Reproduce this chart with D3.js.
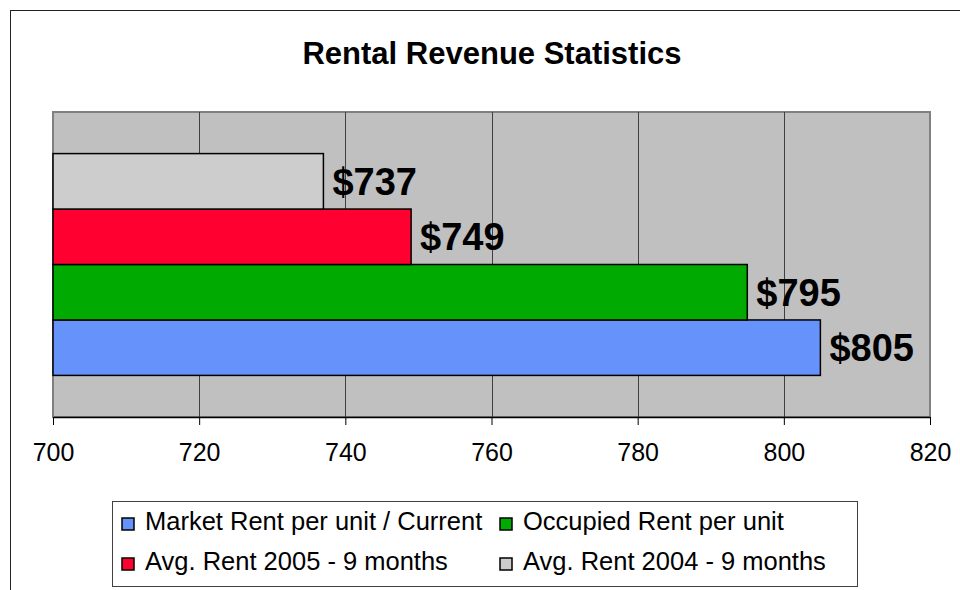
<!DOCTYPE html>
<html>
<head>
<meta charset="utf-8">
<script src="https://cdn.jsdelivr.net/npm/d3@7"></script>
<style>
  body { margin: 0; background: #fff; }
  svg { display: block; font-family: "Liberation Sans", Arial, sans-serif; }
</style>
</head>
<body>
<div id="chart"></div>
<script>
var series = ["Market Rent per unit / Current", "Occupied Rent per unit", "Avg. Rent 2005 - 9 months", "Avg. Rent 2004 - 9 months"];
var values = [805, 795, 749, 737];
var xTicks = [700, 720, 740, 760, 780, 800, 820];
var colors = ["#6592fb", "#00aa00", "#ff0030", "#cdcdcd"];

var width = 960, height = 590;
var plot = {left: 53, right: 930, top: 112, bottom: 417};

var svg = d3.select("#chart")
	.append("svg")
	.attr("width", width)
	.attr("height", height);

// outer chart border (runs off the right / bottom edge)
svg.append("rect")
	.attr("x", 10.5)
	.attr("y", 10.5)
	.attr("width", 2000)
	.attr("height", 2000)
	.attr("fill", "none")
	.attr("stroke", "#222")
	.attr("stroke-width", 1);

svg.append("text")
	.attr("x", 492)
	.attr("y", 64)
	.attr("text-anchor", "middle")
	.style("font-size", "31px")
	.style("font-weight", "bold")
	.text("Rental Revenue Statistics");

var x = d3.scaleLinear()
	.domain([xTicks[0], xTicks[xTicks.length - 1]])
	.range([plot.left, plot.right]);

var y = d3.scaleBand()
	.domain(series.slice().reverse())
	.range([plot.top, plot.bottom])
	.paddingInner(0)
	.paddingOuter(0.75);

var color = d3.scaleOrdinal().domain(series).range(colors);

// plot area
svg.append("rect")
	.attr("x", plot.left)
	.attr("y", plot.top)
	.attr("width", plot.right - plot.left)
	.attr("height", plot.bottom - plot.top)
	.attr("fill", "#c0c0c0")
	.attr("stroke", "#808080")
	.attr("stroke-width", 2);

svg.append("g")
	.selectAll("line")
	.data(xTicks.slice(1, -1))
	.enter().append("line")
	.attr("x1", function(d) { return Math.round(x(d)) + 0.5; })
	.attr("x2", function(d) { return Math.round(x(d)) + 0.5; })
	.attr("y1", plot.top)
	.attr("y2", plot.bottom)
	.attr("stroke", "#404040")
	.attr("stroke-width", 1);

svg.append("g")
	.selectAll("rect")
	.data(values)
	.enter().append("rect")
	.attr("x", x(xTicks[0]))
	.attr("y", function(d, i) { return y(series[i]); })
	.attr("width", function(d) { return x(d) - x(xTicks[0]); })
	.attr("height", y.bandwidth())
	.attr("fill", function(d, i) { return color(series[i]); })
	.attr("stroke", "#000")
	.attr("stroke-width", 1.5);

svg.append("g")
	.selectAll("text")
	.data(values)
	.enter().append("text")
	.attr("x", function(d) { return x(d) + 9; })
	.attr("y", function(d, i) { return y(series[i]) + y.bandwidth() / 2; })
	.attr("dy", "0.36em")
	.style("font-size", "38px")
	.style("font-weight", "bold")
	.text(function(d) { return "$" + d; });

// x axis
var xAxis = svg.append("g")
	.attr("transform", "translate(0," + plot.bottom + ")")
	.call(d3.axisBottom(x).tickValues(xTicks).tickSize(8).tickPadding(18).tickSizeOuter(0));

xAxis.select(".domain").attr("stroke", "#000").attr("stroke-width", 1.5);
xAxis.selectAll(".tick line").attr("stroke", "#000");
xAxis.selectAll(".tick text")
	.attr("fill", "#000")
	.style("font-size", "25px")
	.style("font-family", "'Liberation Sans', Arial, sans-serif");

// legend
var legend = svg.append("g");

legend.append("rect")
	.attr("x", 112.5)
	.attr("y", 501.5)
	.attr("width", 745)
	.attr("height", 85)
	.attr("fill", "#fff")
	.attr("stroke", "#404040")
	.attr("stroke-width", 1);

var item = legend.selectAll("g.item")
	.data(series)
	.enter().append("g")
	.attr("class", "item")
	.attr("transform", function(d, i) {
		return "translate(" + (122 + (i % 2) * 378) + "," + (518 + Math.floor(i / 2) * 40) + ")";
	});

item.append("rect")
	.attr("width", 12)
	.attr("height", 12)
	.attr("fill", function(d) { return color(d); })
	.attr("stroke", "#000")
	.attr("stroke-width", 1.5);

item.append("text")
	.attr("x", 23)
	.attr("y", 12)
	.style("font-size", "25.5px")
	.text(function(d) { return d; });
</script>
</body>
</html>
